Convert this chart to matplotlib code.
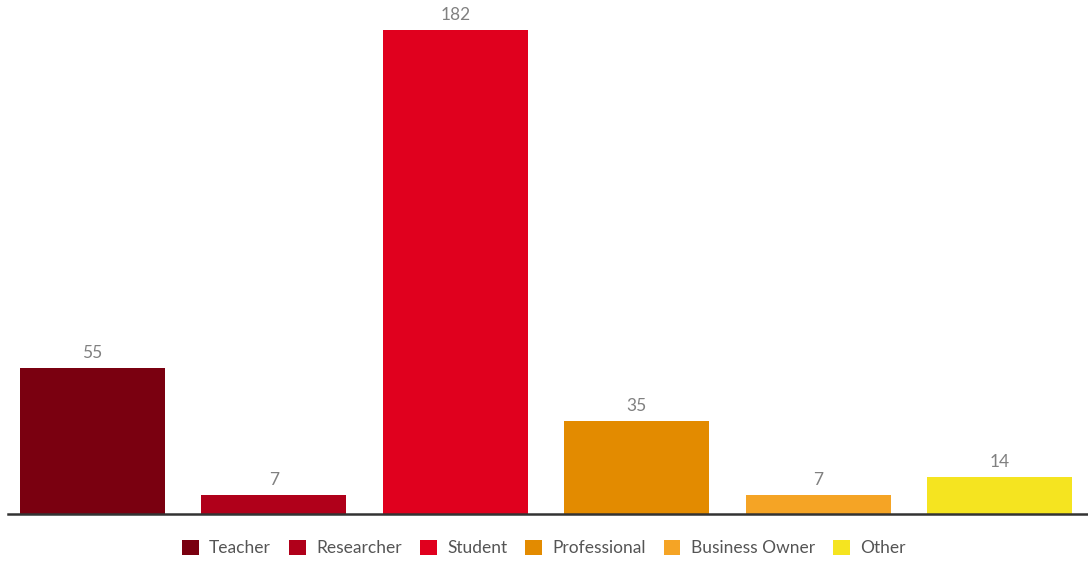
import matplotlib
matplotlib.use("Agg")
import matplotlib.pyplot as plt
from matplotlib.patches import Patch

# respondents by occupation
categories = ["Teacher", "Researcher", "Student", "Professional", "Business Owner", "Other"]
counts = [55, 7, 182, 35, 7, 14]
colors = ["#7a0010", "#b0001a", "#e0001e", "#e38b00", "#f5a425", "#f5e420"]

plt.rcParams['font.family'] = ['Lato', 'DejaVu Sans']

fig = plt.figure(figsize=(10.88, 5.65), dpi=100)
ax = fig.add_axes([1.5 / 1088, 51 / 565, 1089 / 1088, 514 / 565])

x = range(len(categories))
bars = ax.bar(x, counts, width=0.8, color=colors)
for b, v in zip(bars, counts):
    ax.annotate(str(v), (b.get_x() + b.get_width() / 2, v), xytext=(0, 5),
                textcoords="offset points", ha="center", va="bottom",
                fontsize=12.5, color="#808080")

ax.set_xlim(-0.5, len(categories) - 0.5)
ax.set_ylim(0, 193.3)
for s in ["top", "right", "left"]:
    ax.spines[s].set_visible(False)
ax.spines["bottom"].set_color("#333333")
ax.spines["bottom"].set_linewidth(1.8)
ax.spines["bottom"].set_bounds(-0.464, len(categories) - 0.5)
ax.set_xticks([])
ax.set_yticks([])

handles = [Patch(facecolor=c, label=n) for c, n in zip(colors, categories)]
fig.legend(handles=handles, loc="center", bbox_to_anchor=(0.5, 1 - 548 / 565),
           ncol=6, frameon=False, fontsize=12.5, labelcolor="#555555",
           handlelength=0.95, handleheight=0.95, handletextpad=0.6, columnspacing=1.05)

fig.savefig("out.png", dpi=100)
